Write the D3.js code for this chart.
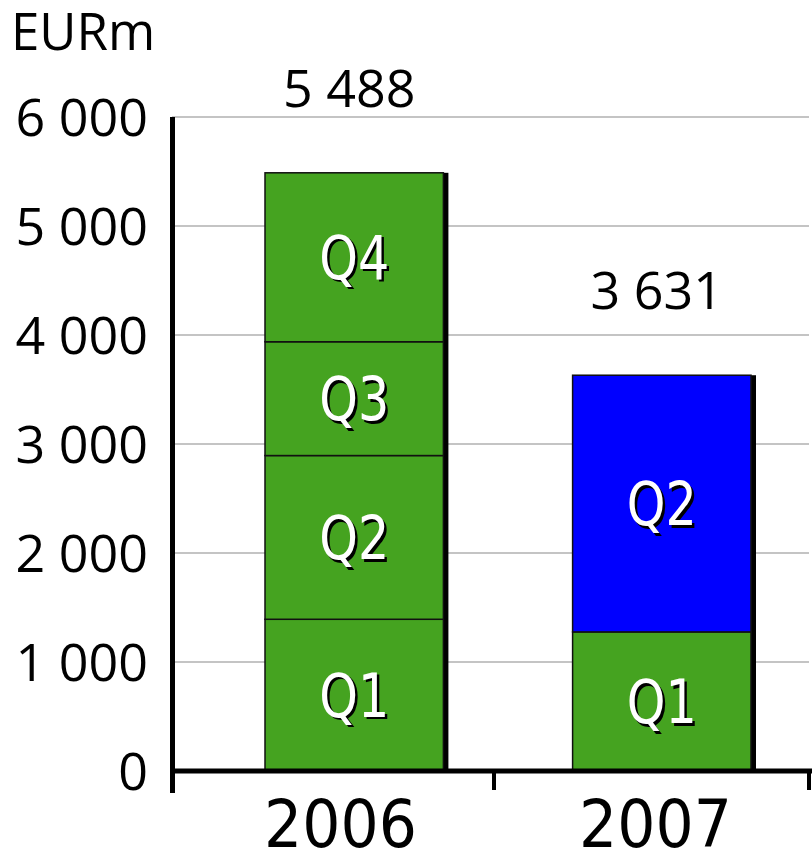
<!DOCTYPE html>
<html>
<head>
<meta charset="utf-8">
<script src="https://cdnjs.cloudflare.com/ajax/libs/d3/7.8.5/d3.min.js"></script>
<style>
  html, body { margin: 0; padding: 0; background: #fff; }
  svg { display: block; }
</style>
</head>
<body>
<script>
const years = ["2006", "2007"];
const quarters = ["Q1", "Q2", "Q3", "Q4"];
const values2006 = [1392, 1502, 1044, 1550];
const values2007 = [1276, 2355];
const totals = [5488, 3631];
const yTicks = [0, 1000, 2000, 3000, 4000, 5000, 6000];

const width = 812;
const height = 851;
const green = "#45a320";
const blue = "#0000ff";

const fmt = d3.formatLocale({ decimal: ".", thousands: " ", grouping: [3] }).format(",d");

const svg = d3.select("body").append("svg")
  .attr("width", width)
  .attr("height", height);

const y = d3.scaleLinear()
  .domain([0, 6000])
  .range([771, 117]);

// frame for axis ticks and year labels
const xFrame = d3.scaleBand()
  .domain(years)
  .range([180, 810]);

// bars
const x = d3.scaleBand()
  .domain(years)
  .range([265, 751])
  .paddingInner(0.42);

// grid lines
svg.append("g")
  .selectAll("line")
  .data(yTicks.filter(d => d > 0))
  .enter().append("line")
  .attr("x1", 172)
  .attr("x2", 809)
  .attr("y1", d => y(d))
  .attr("y2", d => y(d))
  .attr("stroke", "#c4c4c4")
  .attr("stroke-width", 2);

// y tick labels
svg.append("g")
  .selectAll("text")
  .data(yTicks)
  .enter().append("text")
  .attr("x", 148)
  .attr("y", d => y(d))
  .attr("dy", "0.36em")
  .attr("text-anchor", "end")
  .style("font", "52px 'Open Sans'")
  .text(d => fmt(d));

svg.append("text")
  .attr("x", 11)
  .attr("y", 50)
  .style("font", "51px 'Open Sans'")
  .text("EURm");

// stacked segments
const segments = [];
[values2006, values2007].forEach((vals, i) => {
  let base = 0;
  vals.forEach((v, j) => {
    segments.push({
      year: years[i],
      q: quarters[j],
      y0: base,
      y1: base + v,
      last: i === years.length - 1 && j === vals.length - 1
    });
    base += v;
  });
});

const bars = svg.append("g");

// right-hand shadow of each bar
bars.selectAll("rect.shadow")
  .data(years)
  .enter().append("rect")
  .attr("class", "shadow")
  .attr("x", d => x(d) + 5)
  .attr("y", (d, i) => y(totals[i]))
  .attr("width", x.bandwidth())
  .attr("height", (d, i) => y(0) - y(totals[i]))
  .attr("fill", "#000");

bars.selectAll("rect.seg")
  .data(segments)
  .enter().append("rect")
  .attr("class", "seg")
  .attr("x", d => x(d.year))
  .attr("y", d => y(d.y1))
  .attr("width", x.bandwidth())
  .attr("height", d => y(d.y0) - y(d.y1))
  .attr("fill", d => d.last ? blue : green)
  .attr("stroke", "#111")
  .attr("stroke-width", 1.5);

// quarter labels with shadow
const qLab = bars.selectAll("g.qlab")
  .data(segments)
  .enter().append("g")
  .attr("class", "qlab")
  .attr("transform", d => `translate(${x(d.year) + x.bandwidth() / 2},${(y(d.y0) + y(d.y1)) / 2}) scale(0.82,1)`);

qLab.append("text")
  .attr("x", 3)
  .attr("y", 2.5)
  .attr("dy", "0.36em")
  .attr("text-anchor", "middle")
  .style("font", "60px 'DejaVu Sans'")
  .attr("fill", "#000")
  .text(d => d.q);

qLab.append("text")
  .attr("dy", "0.36em")
  .attr("text-anchor", "middle")
  .style("font", "60px 'DejaVu Sans'")
  .attr("fill", "#fff")
  .text(d => d.q);

// totals above bars
svg.append("g")
  .selectAll("text")
  .data(years)
  .enter().append("text")
  .attr("x", d => x(d) + x.bandwidth() / 2 - 5)
  .attr("y", (d, i) => y(totals[i]) - 66)
  .attr("text-anchor", "middle")
  .style("font", "52px 'Open Sans'")
  .text((d, i) => fmt(totals[i]));

// axes
svg.append("line")
  .attr("x1", 172.5).attr("x2", 172.5)
  .attr("y1", 117).attr("y2", 793)
  .attr("stroke", "#000").attr("stroke-width", 5);

svg.append("line")
  .attr("x1", 172).attr("x2", 812)
  .attr("y1", y(0)).attr("y2", y(0))
  .attr("stroke", "#000").attr("stroke-width", 5);

svg.append("g")
  .selectAll("line")
  .data(years)
  .enter().append("line")
  .attr("x1", d => xFrame(d) + xFrame.bandwidth() - 1)
  .attr("x2", d => xFrame(d) + xFrame.bandwidth() - 1)
  .attr("y1", y(0))
  .attr("y2", 790)
  .attr("stroke", "#000")
  .attr("stroke-width", 4);

svg.append("g")
  .selectAll("text")
  .data(years)
  .enter().append("text")
  .attr("transform", d => `translate(${xFrame(d) + xFrame.bandwidth() / 2 + 3},847) scale(0.91,1)`)
  .attr("text-anchor", "middle")
  .style("font", "66px 'DejaVu Sans'")
  .text(d => d);
</script>
</body>
</html>
